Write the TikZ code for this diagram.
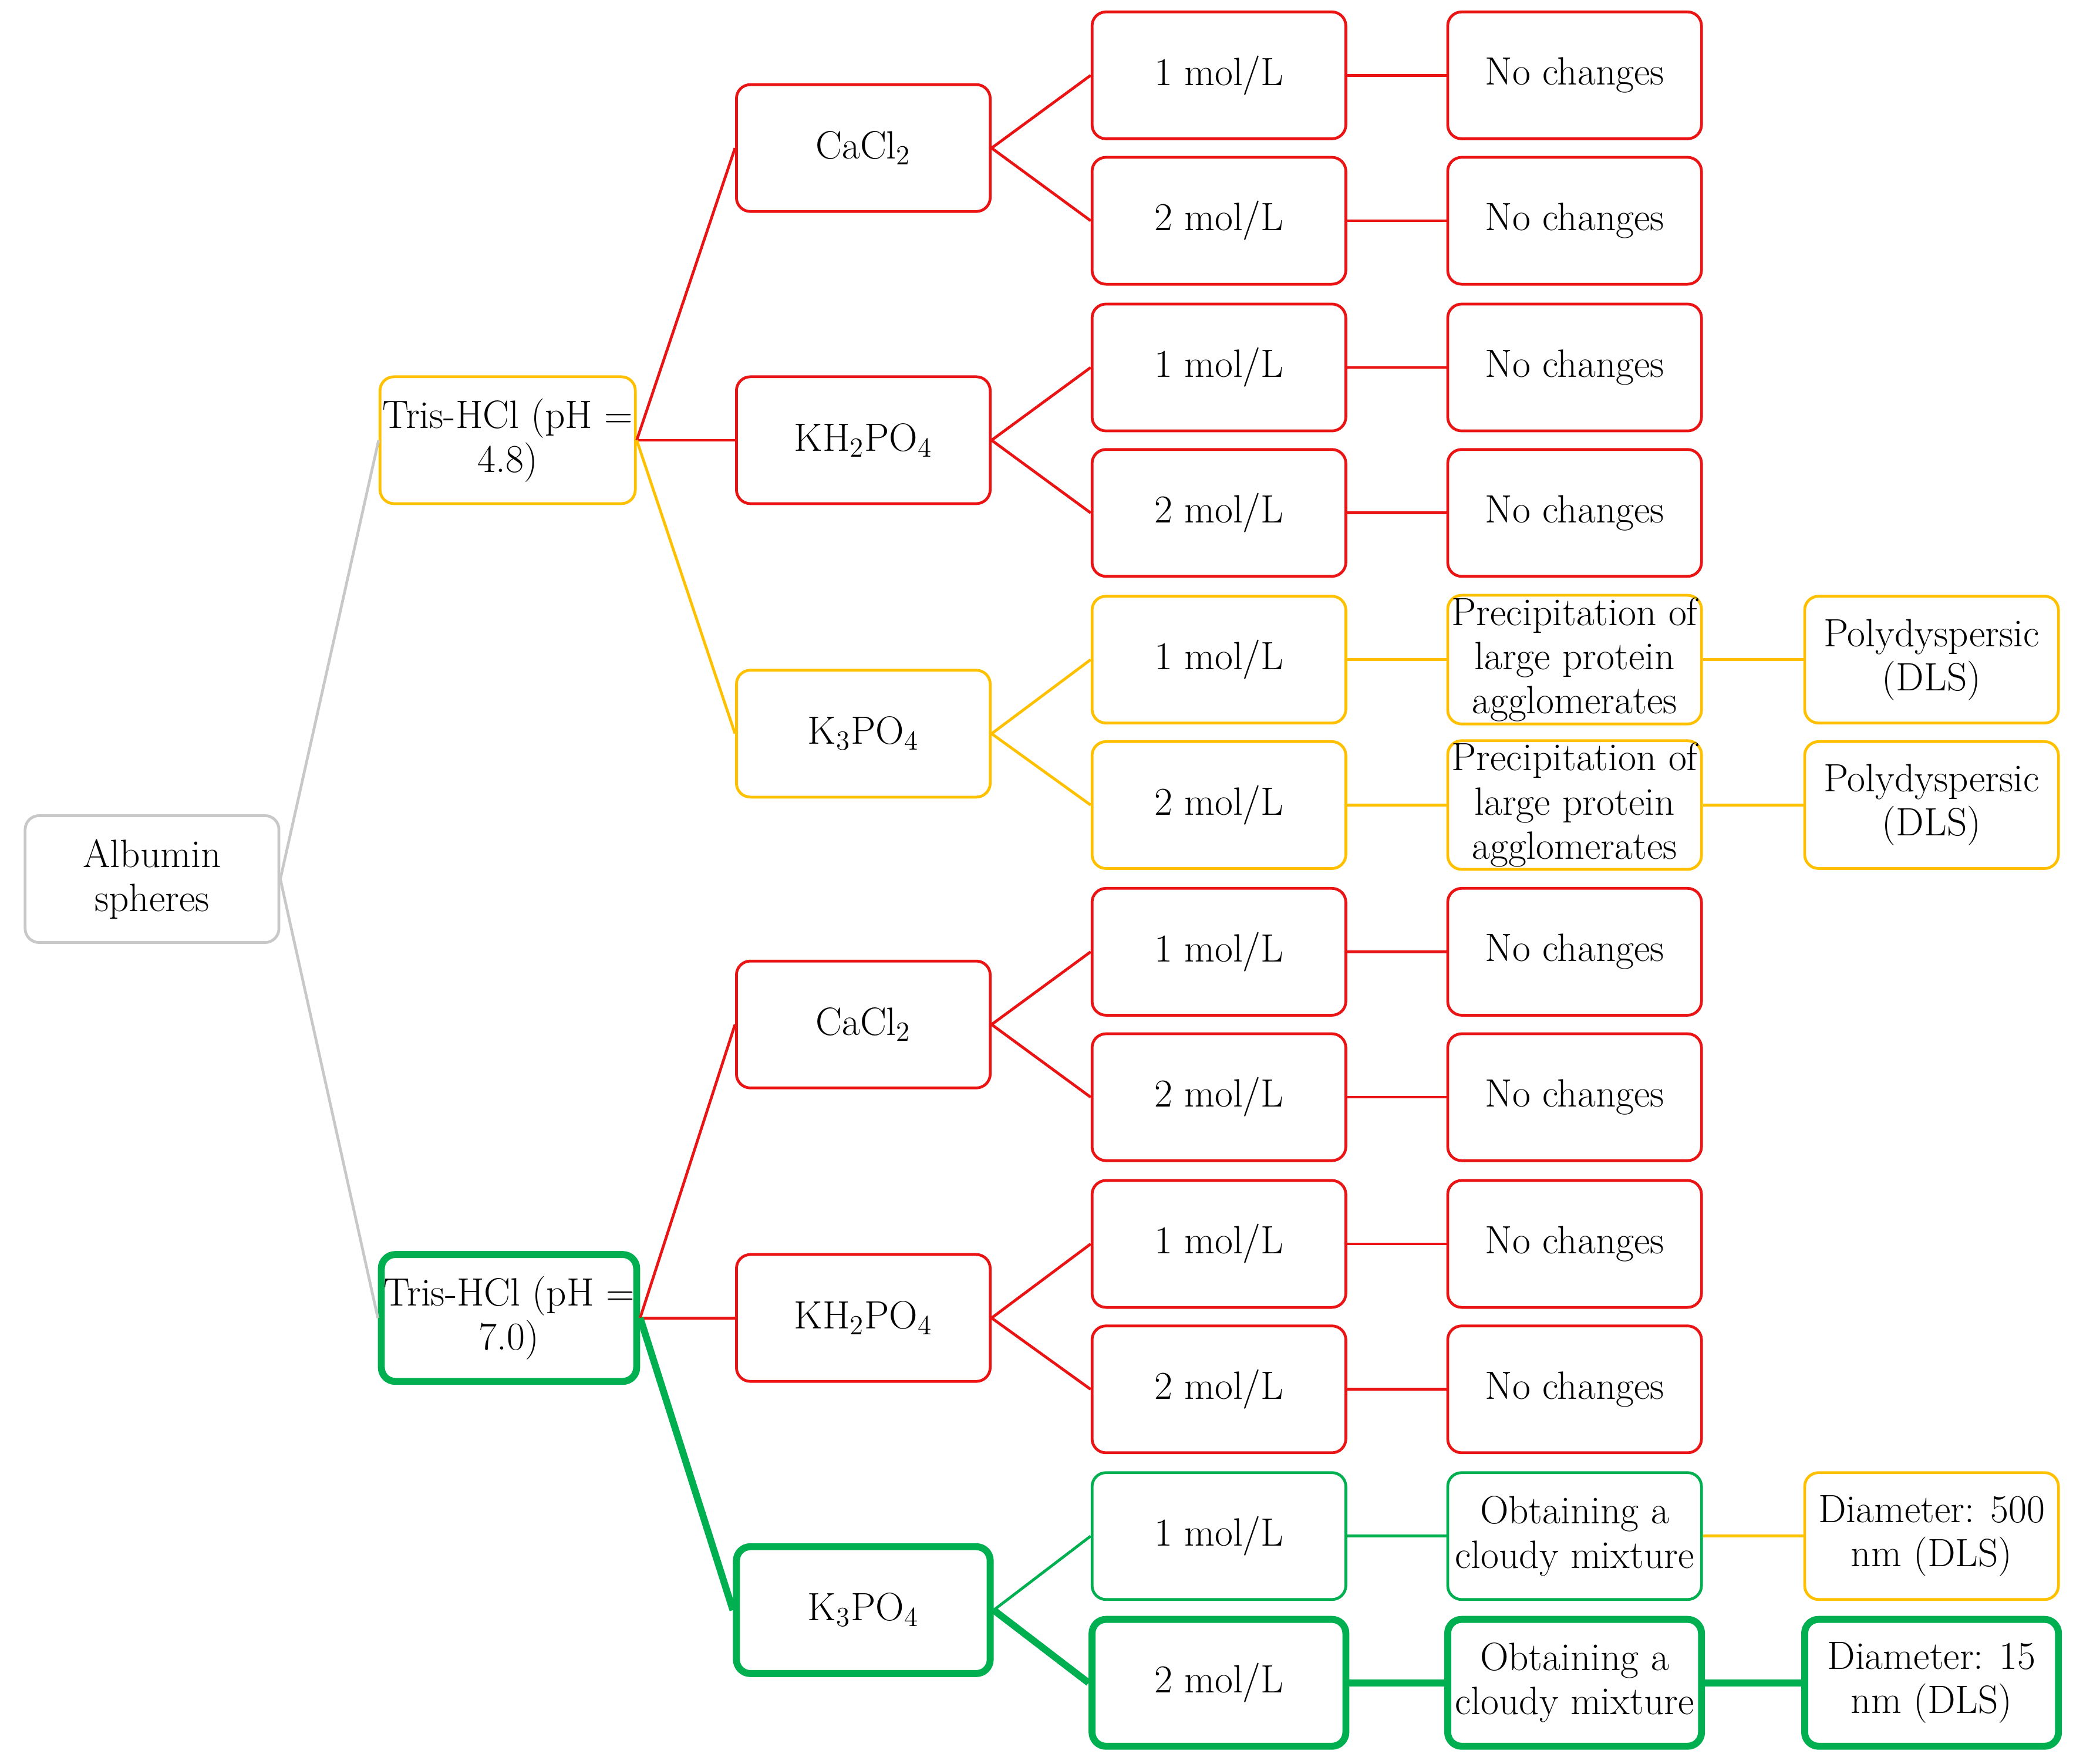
\documentclass[tikz,border=0pt]{standalone}
\usepackage{fixltx2e}
\begin{document}
\definecolor{rd}{RGB}{235,20,20}
\definecolor{yl}{RGB}{255,192,0}
\definecolor{gy}{RGB}{200,200,200}
\definecolor{gn}{RGB}{0,176,80}
\begin{tikzpicture}[x=0.02cm,y=-0.02cm,
 bx/.style={draw,rounded corners=6pt,minimum width=3.84cm,minimum height=1.92cm,align=center,inner sep=1pt,font=\fontsize{17}{19}\selectfont,line width=1.2pt,fill=white},
 R/.style={bx,draw=rd}, Y/.style={bx,draw=yl}, G/.style={bx,draw=gy}, N/.style={bx,draw=gn}, NT/.style={bx,draw=gn,line width=3pt},
 e/.style={line width=1.2pt}, et/.style={line width=3pt,draw=gn}]
\useasboundingbox (0,0) rectangle (1568,1334);
\node[G] (alb) at (115,665) {Albumin\\spheres};
\node[Y] (t1) at (384,333) {Tris-HCl (pH =\\4.8)};
\node[NT] (t2) at (385,997) {Tris-HCl (pH =\\7.0)};
\node[R] (a1) at (653,112) {CaCl\textsubscript{2}};
\node[R] (a2) at (653,333) {KH\textsubscript{2}PO\textsubscript{4}};
\node[Y] (a3) at (653,555) {K\textsubscript{3}PO\textsubscript{4}};
\node[R] (a4) at (653,775) {CaCl\textsubscript{2}};
\node[R] (a5) at (653,997) {KH\textsubscript{2}PO\textsubscript{4}};
\node[NT] (a6) at (653,1218) {K\textsubscript{3}PO\textsubscript{4}};
\foreach \i/\y/\t/\s in {1/57/1/R,2/167/2/R,3/278/1/R,4/388/2/R,5/499/1/Y,6/609/2/Y,7/720/1/R,8/830/2/R,9/941/1/R,10/1051/2/R,11/1162/1/N,12/1273/2/NT}
  \node[\s] (m\i) at (922,\y) {\t{} mol/L};
\foreach \i/\y in {1/57,2/167,3/278,4/388,7/720,8/830,9/941,10/1051}
  \node[R] (r\i) at (1191,\y) {No changes};
\node[Y] (r5) at (1191,499) {Precipitation of\\large protein\\agglomerates};
\node[Y] (r6) at (1191,609) {Precipitation of\\large protein\\agglomerates};
\node[N] (r11) at (1191,1162) {Obtaining a\\cloudy mixture};
\node[NT] (r12) at (1191,1273) {Obtaining a\\cloudy mixture};
\node[Y] (d5) at (1461,499) {Polydyspersic\\(DLS)};
\node[Y] (d6) at (1461,609) {Polydyspersic\\(DLS)};
\node[Y] (d11) at (1461,1162) {Diameter: 500\\nm (DLS)};
\node[NT] (d12) at (1461,1273) {Diameter: 15\\nm (DLS)};
\begin{scope}[on background layer/.style={}]
\draw[e,gy] (alb.east) -- (t1.west); \draw[e,gy] (alb.east) -- (t2.west);
\draw[e,rd] (t1.east) -- (a1.west); \draw[e,rd] (t1.east) -- (a2.west); \draw[e,yl] (t1.east) -- (a3.west);
\draw[e,rd] (t2.east) -- (a4.west); \draw[e,rd] (t2.east) -- (a5.west); \draw[et] (t2.east) -- (a6.west);
\draw[e,rd] (a1.east) -- (m1.west); \draw[e,rd] (a1.east) -- (m2.west);
\draw[e,rd] (a2.east) -- (m3.west); \draw[e,rd] (a2.east) -- (m4.west);
\draw[e,yl] (a3.east) -- (m5.west); \draw[e,yl] (a3.east) -- (m6.west);
\draw[e,rd] (a4.east) -- (m7.west); \draw[e,rd] (a4.east) -- (m8.west);
\draw[e,rd] (a5.east) -- (m9.west); \draw[e,rd] (a5.east) -- (m10.west);
\draw[e,gn] (a6.east) -- (m11.west); \draw[et] (a6.east) -- (m12.west);
\foreach \i in {1,2,3,4,7,8,9,10} \draw[e,rd] (m\i.east) -- (r\i.west);
\draw[e,yl] (m5.east) -- (r5.west); \draw[e,yl] (m6.east) -- (r6.west);
\draw[e,yl] (r5.east) -- (d5.west); \draw[e,yl] (r6.east) -- (d6.west);
\draw[e,gn] (m11.east) -- (r11.west); \draw[e,yl] (r11.east) -- (d11.west);
\draw[et] (m12.east) -- (r12.west); \draw[et] (r12.east) -- (d12.west);
\end{scope}
\end{tikzpicture}
\end{document}
